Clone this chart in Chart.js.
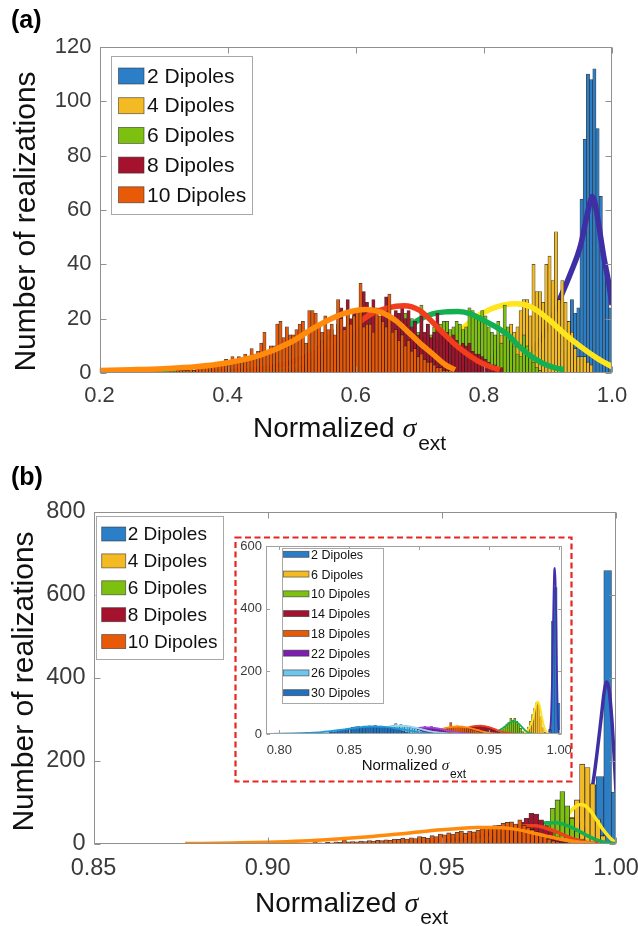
<!DOCTYPE html>
<html>
<head>
<meta charset="utf-8">
<script src="https://cdn.jsdelivr.net/npm/chart.js"></script>
<style>
  html, body { margin: 0; padding: 0; background: #fff; }
  #wrap { position: relative; width: 638px; height: 926px; overflow: hidden; }
  canvas { position: absolute; left: 0; top: 0; }
</style>
</head>
<body>
<div id="wrap">
  <canvas id="chartA" width="638" height="926"></canvas>
  <canvas id="chartB" width="638" height="926"></canvas>
  <canvas id="chartC" width="638" height="926"></canvas>
</div>
<script>
// ---------- text ----------
const yTitle = 'Number of realizations';
const xTitleMain = 'Normalized ';
const xTitleSym = 'σ';
const xTitleSub = 'ext';
const legendA = ['2 Dipoles', '4 Dipoles', '6 Dipoles', '8 Dipoles', '10 Dipoles'];
const legendC = ['2 Dipoles', '6 Dipoles', '10 Dipoles', '14 Dipoles', '18 Dipoles', '22 Dipoles', '26 Dipoles', '30 Dipoles'];

// ---------- ticks ----------
const aXTicks = [0.2, 0.4, 0.6, 0.8, 1.0];
const aXLabels = ['0.2', '0.4', '0.6', '0.8', '1.0'];
const aYTicks = [0, 20, 40, 60, 80, 100, 120];
const aYLabels = ['0', '20', '40', '60', '80', '100', '120'];
const bXTicks = [0.85, 0.90, 0.95, 1.00];
const bXLabels = ['0.85', '0.90', '0.95', '1.00'];
const bYTicks = [0, 200, 400, 600, 800];
const bYLabels = ['0', '200', '400', '600', '800'];
const cXTicks = [0.80, 0.85, 0.90, 0.95, 1.00];
const cXLabels = ['0.80', '0.85', '0.90', '0.95', '1.00'];
const cYTicks = [0, 200, 400, 600];
const cYLabels = ['0', '200', '400', '600'];

// ---------- panel (a) histograms: first bin centre, bin width, counts ----------
const aBin = 0.005;
const a2Start = 0.9225;
const a2Counts = [3, 8, 19, 27, 22, 24, 64, 86, 110, 108, 112, 90, 65, 42, 35, 24];
const a4Start = 0.8025;
const a4Counts = [2, 4, 6, 8, 10, 14, 16, 12, 18, 15, 17, 23, 27, 27, 21, 40, 30, 30, 26, 40,
  43, 34, 52, 27, 34, 26, 19, 15, 9, 6, 6, 6, 4, 3];
const a6Start = 0.6725;
const a6Counts = [3, 22, 8, 20, 12, 15, 25, 13, 18, 14, 17, 12, 18, 19, 19, 16, 17, 19, 18, 16,
  17, 24, 23, 20, 21, 23, 21, 17, 15, 14, 19, 11, 25, 17, 13, 10, 7, 6, 14, 10, 7, 4, 2, 1];
const a8Start = 0.4975;
const a8Counts = [1, 2, 1, 4, 3, 6, 5, 8, 7, 10, 12, 9, 14, 16, 13, 18, 24, 17, 27, 20,
  22, 19, 24, 30, 26, 21, 27, 24, 20, 23, 28, 23, 21, 23, 22, 25, 20, 23, 17, 19,
  14, 21, 15, 18, 13, 15, 22, 15, 14, 15, 12, 14, 12, 10, 11, 10, 11, 8, 7, 7, 6, 5, 4, 3, 3, 2, 2];
const a10Start = 0.3125;
const a10Counts = [1, 0, 1, 1, 1, 1, 2, 1, 2, 2, 2, 3, 2, 3, 4, 3, 4, 5, 4, 6,
  5, 6, 5, 7, 6, 9, 7, 8, 11, 15, 7, 10, 10, 18, 19, 13, 17, 14, 14, 16,
  18, 19, 11, 23, 23, 22, 17, 15, 21, 16, 18, 14, 27, 20, 16, 23, 18, 21, 23, 33,
  17, 18, 18, 15, 22, 21, 19, 17, 29, 15, 16, 12, 14, 10, 12, 8, 9, 6, 7, 5,
  4, 4, 3, 2, 2, 1, 1, 1, 0];

// ---------- panel (a) fitted curves ----------
const a2FitX = [0.782, 0.80, 0.82, 0.84, 0.86, 0.88, 0.90, 0.919, 0.935, 0.951, 0.96, 0.966, 0.969, 0.973, 0.979, 0.987, 0.995, 1.0];
const a2FitY = [0.1, 0.3, 0.8, 2, 4.5, 9.5, 17, 27.5, 36.5, 47, 57, 63, 65, 63, 55, 43, 33, 25];
const a4FitX = [0.28, 0.40, 0.50, 0.60, 0.65, 0.70, 0.73, 0.75, 0.77, 0.79, 0.81, 0.83, 0.85, 0.873, 0.899, 0.925, 0.951, 0.977, 1.0];
const a4FitY = [0, 0, 0.1, 0.6, 1.8, 5, 8.5, 12.5, 17, 21, 23.5, 25, 25.5, 24.4, 20.1, 14.6, 9.7, 5.4, 2.3];
const a6FitX = [0.28, 0.40, 0.50, 0.55, 0.60, 0.64, 0.66, 0.685, 0.70, 0.72, 0.74, 0.76, 0.78, 0.80, 0.82, 0.84, 0.85, 0.87, 0.89, 0.91, 0.925];
const a6FitY = [0, 0.1, 0.8, 2, 5, 10, 13.5, 17.5, 19.8, 21.8, 22.5, 22.6, 21.7, 19.3, 16.8, 13.5, 11, 6.8, 3.8, 2, 1.2];
const a8FitX = [0.37, 0.45, 0.50, 0.54, 0.58, 0.60, 0.625, 0.65, 0.675, 0.70, 0.73, 0.76, 0.79, 0.81, 0.825];
const a8FitY = [0.2, 1.5, 4, 8, 14, 17.8, 21.8, 24, 24.8, 23, 16.2, 9.5, 4.5, 2.3, 1.2];
const a10FitX = [0.2, 0.25, 0.3, 0.35, 0.4, 0.45, 0.5, 0.534, 0.56, 0.58, 0.6, 0.615, 0.64, 0.664, 0.68, 0.70, 0.72, 0.74, 0.755];
const a10FitY = [0.9, 1.2, 1.6, 2.3, 3.8, 6.5, 11.5, 16.5, 19.8, 21.8, 23, 23.4, 22.3, 19, 15.5, 11, 7, 3, 1.2];

// ---------- panel (b) histograms ----------
const b2Start = 0.9888, b2Width = 0.0022;
const b2Counts = [5, 40, 142, 162, 658, 125];
const b4Start = 0.9813, b4Width = 0.0015;
const b4Counts = [5, 10, 20, 40, 65, 106, 192, 184, 145, 60, 20];
const b6Start = 0.9776, b6Width = 0.0014;
const b6Counts = [10, 20, 52, 86, 106, 126, 92, 62, 30, 12, 5];
const b8Start = 0.9645, b8Width = 0.0014;
const b8Counts = [20, 25, 30, 35, 38, 45, 52, 62, 74, 72, 58, 44, 30, 18, 10, 5];
const b10Start = 0.9136, b10Width = 0.0012;
const b10Counts = [8, 3, 2, 4, 3, 5, 4, 10, 5, 6, 5, 7, 6, 8, 7, 9, 8, 10, 9, 12,
  11, 14, 12, 15, 13, 18, 16, 14, 20, 18, 24, 22, 27, 24, 28, 31, 26, 31, 29, 33,
  36, 38, 41, 44, 45, 50, 52, 53, 48, 58, 45, 40, 35, 30, 24, 18, 12, 8, 5, 3, 1];

// ---------- panel (b) fitted curves ----------
const b2FitX = [0.985, 0.988, 0.9905, 0.9933, 0.9945, 0.9957, 0.9966, 0.9973, 0.998, 0.9988, 0.9995, 1.0];
const b2FitY = [2, 15, 60, 142, 215, 300, 365, 390, 372, 300, 205, 125];
const b4FitX = [0.978, 0.981, 0.983, 0.985, 0.987, 0.9885, 0.990, 0.9915, 0.993, 0.9945, 0.996, 0.9975, 0.999, 1.0];
const b4FitY = [3, 12, 28, 52, 79, 91, 95, 90, 76, 57, 38, 22, 9, 3];
const b6FitX = [0.962, 0.966, 0.970, 0.974, 0.977, 0.980, 0.983, 0.986, 0.989, 0.992, 0.995, 0.998, 1.0];
const b6FitY = [3, 7, 15, 30, 44, 51, 51, 44, 33, 19, 8, 2.5, 1];
const b8FitX = [0.94, 0.95, 0.96, 0.965, 0.97, 0.974, 0.977, 0.98, 0.983, 0.986, 0.989, 0.992, 0.995];
const b8FitY = [3, 8, 17, 27, 38, 44, 44, 38, 29, 18, 9, 3, 1];
const b10FitX = [0.8763, 0.89, 0.90, 0.91, 0.92, 0.93, 0.94, 0.95, 0.96, 0.965, 0.97, 0.975, 0.98, 0.985, 0.99, 0.994];
const b10FitY = [1, 2.5, 4, 7, 12, 18, 26, 34, 39.5, 40, 37, 29, 19, 10, 3.5, 1];

// ---------- inset histograms ----------
const c2Start = 0.9935, c2Width = 0.002;
const c2Counts = [15, 360, 467, 98];
const c6Start = 0.975, c6Width = 0.0015;
const c6Counts = [5, 12, 22, 40, 62, 82, 100, 93, 55, 20, 5];
const c10Start = 0.9556, c10Width = 0.0014;
const c10Counts = [3, 6, 10, 16, 24, 32, 38, 50, 44, 50, 40, 30, 18, 8, 3];
const c14Start = 0.9285, c14Width = 0.0015;
const c14Counts = [5, 8, 12, 16, 20, 18, 24, 22, 28, 25, 27, 24, 26, 22, 21, 18, 15, 12, 8, 5, 3];
const c18Start = 0.9075, c18Width = 0.0015;
const c18Counts = [3, 5, 6, 8, 10, 12, 14, 16, 18, 20, 36, 22, 24, 26, 22, 24, 22, 20, 18, 16, 14, 12, 10, 8, 6, 4, 2];
const c22Start = 0.888, c22Width = 0.0016;
const c22Counts = [4, 6, 8, 10, 13, 15, 18, 20, 22, 20, 24, 21, 22, 24, 20, 19, 16, 14, 11, 8, 6, 4, 2];
const c26Start = 0.8635, c26Width = 0.0018;
const c26Counts = [3, 5, 8, 10, 13, 16, 19, 22, 24, 26, 28, 33, 27, 30, 26, 28, 24, 22, 19, 16, 13, 10, 7, 4, 2];
const c30Start = 0.8345, c30Width = 0.002;
const c30Counts = [3, 5, 6, 8, 10, 12, 14, 17, 19, 21, 23, 24, 22, 25, 23, 26, 24, 27, 22, 25, 22, 21, 20, 18, 16, 14, 11, 9, 6, 4, 2];

// ---------- inset fitted curves ----------
const c2FitX = [0.9925, 0.994, 0.995, 0.996, 0.9965, 0.997, 0.9975, 0.998, 0.9985, 0.999, 0.9995, 1.0];
const c2FitY = [0, 40, 200, 450, 525, 530, 470, 330, 170, 60, 15, 3];
const c6FitX = [0.972, 0.975, 0.978, 0.981, 0.983, 0.9845, 0.986, 0.9875, 0.9895, 0.9915, 0.9935];
const c6FitY = [1, 4, 15, 45, 85, 103, 92, 58, 20, 4, 1];
const c10FitX = [0.948, 0.952, 0.956, 0.96, 0.964, 0.967, 0.970, 0.973, 0.976, 0.979, 0.982];
const c10FitY = [1, 3, 9, 20, 33, 40, 37, 24, 10, 3, 1];
const c14FitX = [0.905, 0.915, 0.925, 0.932, 0.938, 0.944, 0.95, 0.956, 0.962, 0.968, 0.975];
const c14FitY = [0.5, 1.5, 6, 15, 24, 27, 22, 12, 4, 1, 0.3];
const c18FitX = [0.885, 0.895, 0.905, 0.913, 0.92, 0.928, 0.935, 0.942, 0.948, 0.955, 0.962];
const c18FitY = [0.3, 1, 5, 12, 20, 24, 20, 12, 5, 1, 0.3];
const c22FitX = [0.86, 0.875, 0.885, 0.895, 0.905, 0.912, 0.92, 0.928, 0.936, 0.945];
const c22FitY = [0.3, 2, 8, 16, 21, 19, 11, 4, 1, 0.3];
const c26FitX = [0.84, 0.855, 0.865, 0.875, 0.885, 0.892, 0.90, 0.91, 0.92, 0.93];
const c26FitY = [0.5, 3, 10, 20, 26, 25, 17, 7, 2, 0.5];
const c30FitX = [0.7905, 0.80, 0.81, 0.82, 0.83, 0.845, 0.855, 0.865, 0.875, 0.885, 0.895, 0.905, 0.915, 0.925];
const c30FitY = [0.5, 1, 2, 3.5, 6, 14, 20, 24, 23, 17, 9, 3, 1, 0.3];

// ---------- styles ----------
const FONT = '"Liberation Sans", Arial, Helvetica, sans-serif';
const SYMFONT = '"Liberation Serif", "DejaVu Serif", serif';
const TICK_COLOR = '#3a3a3a';
const barColorsA = ['#2B7FC8', '#F3BA24', '#7DC010', '#A5122E', '#E85A08'];
const fitColorsA = ['#3F2FA5', '#FFE51C', '#12B050', '#F23D1C', '#FF8A0C'];
const barColorsC = ['#2A7DC6', '#F3BA24', '#7DC010', '#A5122E', '#E65A0A', '#7E1EAE', '#6FC6EC', '#2270BC'];
const fitColorsC = ['#4030B0', '#FFE51C', '#12B050', '#F23D1C', '#FF8A0C', '#A040E0', '#9ED8F2', '#1E9AD8'];

// ---------- helpers ----------
function hist(start, width, counts) {
  return counts.map((c, i) => ({ x: +(start + i * width).toFixed(5), y: c }));
}
function curve(xs, ys) {
  return xs.map((x, i) => ({ x: x, y: ys[i] }));
}
// bar width in pixels = one bin width on the x scale
function binPx(width) {
  return ctx => {
    const s = ctx.chart.scales.x;
    return Math.abs(s.getPixelForValue(width) - s.getPixelForValue(0));
  };
}
function barSet(label, color, start, width, counts, order, edge) {
  return {
    type: 'bar', label: label, data: hist(start, width, counts),
    backgroundColor: color, borderColor: 'rgba(30,30,30,0.85)',
    borderWidth: edge, borderSkipped: 'start', grouped: false,
    inflateAmount: 0.35,
    barThickness: binPx(width), order: order
  };
}
function lineSet(label, color, xs, ys, order, lw) {
  return {
    type: 'line', label: label, data: curve(xs, ys),
    borderColor: color, borderWidth: lw, pointRadius: 0, fill: false,
    cubicInterpolationMode: 'monotone', order: order
  };
}
// MATLAB draws hist, fit, hist, fit ... later ones on top
function buildSets(labels, starts, widths, counts, fitXs, fitYs, barCols, fitCols, lw, edge) {
  const n = labels.length, out = [];
  for (let k = 0; k < n; k++) {
    const depth = 2 * (n - 1 - k);
    out.push(barSet(labels[k], barCols[k], starts[k], widths[k], counts[k], depth + 1, edge));
    out.push(lineSet(labels[k] + ' fit', fitCols[k], fitXs[k], fitYs[k], depth, lw));
  }
  return out;
}

const framePlugin = {
  id: 'frame',
  afterDatasetsDraw(chart, args, o) {
    const { ctx, chartArea: a, scales } = chart;
    const l = Math.round(a.left) + 0.5, r = Math.round(a.right) - 0.5;
    const t = Math.round(a.top) + 0.5, b = Math.round(a.bottom) - 0.5;
    ctx.save();
    ctx.strokeStyle = o.color;
    ctx.lineWidth = 1;
    ctx.strokeRect(l, t, r - l, b - t);
    ctx.beginPath();
    scales.x.ticks.forEach(tk => {
      const px = Math.round(scales.x.getPixelForValue(tk.value)) + 0.5;
      ctx.moveTo(px, b); ctx.lineTo(px, b - o.tick);
      ctx.moveTo(px, t); ctx.lineTo(px, t + o.tick);
    });
    scales.y.ticks.forEach(tk => {
      const py = Math.round(scales.y.getPixelForValue(tk.value)) + 0.5;
      ctx.moveTo(l, py); ctx.lineTo(l + o.tick, py);
      ctx.moveTo(r, py); ctx.lineTo(r - o.tick, py);
    });
    ctx.stroke();
    ctx.restore();
  }
};

function drawLegend(ctx, lg) {
  const [l, t, r, b] = lg.box;
  ctx.fillStyle = '#fff';
  ctx.fillRect(l, t, r - l, b - t);
  ctx.strokeStyle = '#a8a8a8';
  ctx.lineWidth = 1;
  ctx.strokeRect(Math.round(l) + 0.5, Math.round(t) + 0.5, Math.round(r - l), Math.round(b - t));
  ctx.font = lg.size + 'px ' + FONT;
  ctx.textAlign = 'left';
  ctx.textBaseline = 'middle';
  lg.labels.forEach((txt, i) => {
    const cy = lg.y0 + i * lg.dy;
    ctx.fillStyle = lg.colors[i];
    ctx.fillRect(lg.sx, cy - lg.sh / 2, lg.sw, lg.sh);
    ctx.strokeStyle = 'rgba(50,50,50,0.7)';
    ctx.lineWidth = 0.8;
    ctx.strokeRect(lg.sx, cy - lg.sh / 2, lg.sw, lg.sh);
    ctx.fillStyle = '#111';
    ctx.fillText(txt, lg.tx, cy + 1);
  });
}

function drawXTitle(ctx, t) {
  ctx.fillStyle = '#111';
  ctx.textAlign = 'left';
  ctx.textBaseline = 'alphabetic';
  ctx.font = t.size + 'px ' + FONT;
  ctx.fillText(xTitleMain, t.x, t.y);
  let x = t.x + ctx.measureText(xTitleMain).width;
  ctx.font = 'italic ' + t.size + 'px ' + SYMFONT;
  ctx.fillText(xTitleSym, x, t.y);
  x += ctx.measureText(xTitleSym).width + t.gap;
  ctx.font = t.sub + 'px ' + FONT;
  ctx.fillText(xTitleSub, x, t.y + t.dy);
}

const annotPlugin = {
  id: 'annot',
  beforeDraw(chart, args, o) {
    if (o.inset) {
      const ctx = chart.ctx, [l, t, r, b] = o.inset;
      ctx.save();
      ctx.fillStyle = '#fff';
      ctx.fillRect(l, t, r - l, b - t);
      ctx.restore();
    }
  },
  afterDraw(chart, args, o) {
    const ctx = chart.ctx;
    ctx.save();
    if (o.letter) {
      ctx.fillStyle = '#000';
      ctx.font = 'bold 25px ' + FONT;
      ctx.textAlign = 'left';
      ctx.textBaseline = 'alphabetic';
      ctx.fillText(o.letter.text, o.letter.x, o.letter.y);
    }
    if (o.yTitle) {
      ctx.save();
      ctx.translate(o.yTitle.x, o.yTitle.y);
      ctx.rotate(-Math.PI / 2);
      ctx.fillStyle = '#111';
      ctx.font = o.yTitle.size + 'px ' + FONT;
      ctx.textAlign = 'center';
      ctx.textBaseline = 'alphabetic';
      ctx.fillText(yTitle, 0, 0);
      ctx.restore();
    }
    if (o.xTitle) drawXTitle(ctx, o.xTitle);
    if (o.legend) drawLegend(ctx, o.legend);
    if (o.inset) {
      const [l, t, r, b] = o.inset;
      ctx.strokeStyle = '#E8261E';
      ctx.lineWidth = 2.2;
      ctx.setLineDash([6, 3.5]);
      ctx.strokeRect(l, t, r - l, b - t);
      ctx.setLineDash([]);
    }
    ctx.restore();
  }
};

function buildChart(id, p) {
  const [L, T, R, B] = p.area;
  const tickFont = { family: FONT, size: p.tickSize };
  return new Chart(document.getElementById(id), {
    type: 'bar',
    data: { datasets: p.datasets },
    options: {
      responsive: false,
      animation: false,
      devicePixelRatio: 1,
      events: [],
      layout: { padding: { left: L - p.yAxisW, top: T, right: 638 - R, bottom: 926 - B - p.xAxisH } },
      scales: {
        x: {
          type: 'linear', min: p.xMin, max: p.xMax, offset: false,
          grid: { display: false, drawTicks: false }, border: { display: false },
          afterBuildTicks: s => { s.ticks = p.xTicks.map(v => ({ value: v })); },
          afterFit: s => { s.height = p.xAxisH; s.paddingLeft = 0; s.paddingRight = 0; },
          ticks: { autoSkip: false, maxRotation: 0, padding: p.xPad, color: TICK_COLOR,
                   font: tickFont, callback: (v, i) => p.xLabels[i] }
        },
        y: {
          type: 'linear', min: p.yMin, max: p.yMax,
          grid: { display: false, drawTicks: false }, border: { display: false },
          afterBuildTicks: s => { s.ticks = p.yTicks.map(v => ({ value: v })); },
          afterFit: s => { s.width = p.yAxisW; s.paddingTop = 0; s.paddingBottom = 0; },
          ticks: { autoSkip: false, padding: p.yPad, color: TICK_COLOR,
                   font: tickFont, callback: (v, i) => p.yLabels[i] }
        }
      },
      plugins: {
        legend: { display: false },
        tooltip: { enabled: false },
        frame: p.frame,
        annot: p.annot
      }
    },
    plugins: [framePlugin, annotPlugin]
  });
}

// ---------- panel (a) ----------
buildChart('chartA', {
  area: [99.5, 47, 612, 373], yAxisW: 90, xAxisH: 40,
  xMin: 0.2, xMax: 1.0, yMin: 0, yMax: 120,
  xTicks: aXTicks, xLabels: aXLabels, yTicks: aYTicks, yLabels: aYLabels,
  tickSize: 22, xPad: 10, yPad: 8,
  datasets: buildSets(legendA,
    [a2Start, a4Start, a6Start, a8Start, a10Start],
    [aBin, aBin, aBin, aBin, aBin],
    [a2Counts, a4Counts, a6Counts, a8Counts, a10Counts],
    [a2FitX, a4FitX, a6FitX, a8FitX, a10FitX],
    [a2FitY, a4FitY, a6FitY, a8FitY, a10FitY],
    barColorsA, fitColorsA, 5.5, 0.7),
  frame: { color: '#909090', tick: 6 },
  annot: {
    letter: { text: '(a)', x: 11, y: 28 },
    yTitle: { x: 35, y: 221.5, size: 30 },
    xTitle: { x: 253, y: 436.5, size: 28, sub: 21, dy: 13, gap: 2 },
    legend: { box: [110.5, 55.5, 251, 213.5], labels: legendA, colors: barColorsA,
              size: 21, sx: 118.5, sw: 25.5, sh: 16, tx: 147, y0: 76, dy: 29.7 }
  }
});

// ---------- panel (b) ----------
buildChart('chartB', {
  area: [93.5, 511.5, 616, 844], yAxisW: 85, xAxisH: 40,
  xMin: 0.85, xMax: 1.0, yMin: 0, yMax: 800,
  xTicks: bXTicks, xLabels: bXLabels, yTicks: bYTicks, yLabels: bYLabels,
  tickSize: 23.5, xPad: 10, yPad: 8,
  datasets: buildSets(legendA,
    [b2Start, b4Start, b6Start, b8Start, b10Start],
    [b2Width, b4Width, b6Width, b8Width, b10Width],
    [b2Counts, b4Counts, b6Counts, b8Counts, b10Counts],
    [b2FitX, b4FitX, b6FitX, b8FitX, b10FitX],
    [b2FitY, b4FitY, b6FitY, b8FitY, b10FitY],
    barColorsA, fitColorsA, 3.5, 0.8),
  frame: { color: '#909090', tick: 6 },
  annot: {
    letter: { text: '(b)', x: 11, y: 485 },
    yTitle: { x: 33, y: 681.5, size: 30 },
    xTitle: { x: 255, y: 912, size: 28, sub: 21, dy: 11.5, gap: 2 },
    legend: { box: [95.5, 515.5, 222.5, 658.5], labels: legendA, colors: barColorsA,
              size: 19, sx: 101.7, sw: 24, sh: 14, tx: 127.7, y0: 534, dy: 26.9 }
  }
});

// ---------- inset ----------
buildChart('chartC', {
  area: [266, 546, 562, 734], yAxisW: 40, xAxisH: 30,
  xMin: 0.7905, xMax: 1.002, yMin: 0, yMax: 600,
  xTicks: cXTicks, xLabels: cXLabels, yTicks: cYTicks, yLabels: cYLabels,
  tickSize: 13, xPad: 9, yPad: 4,
  datasets: buildSets(legendC,
    [c2Start, c6Start, c10Start, c14Start, c18Start, c22Start, c26Start, c30Start],
    [c2Width, c6Width, c10Width, c14Width, c18Width, c22Width, c26Width, c30Width],
    [c2Counts, c6Counts, c10Counts, c14Counts, c18Counts, c22Counts, c26Counts, c30Counts],
    [c2FitX, c6FitX, c10FitX, c14FitX, c18FitX, c22FitX, c26FitX, c30FitX],
    [c2FitY, c6FitY, c10FitY, c14FitY, c18FitY, c22FitY, c26FitY, c30FitY],
    barColorsC, fitColorsC, 1.8, 0.4),
  frame: { color: '#a0a0a0', tick: 3.5 },
  annot: {
    inset: [235.5, 537.5, 571.5, 781.5],
    xTitle: { x: 361.7, y: 770, size: 15, sub: 12, dy: 8, gap: 1 },
    legend: { box: [281.7, 548.3, 382.7, 703.3], labels: legendC, colors: barColorsC,
              size: 12.5, sx: 283.5, sw: 25.5, sh: 6, tx: 311, y0: 554.3, dy: 19.77 }
  }
});
</script>
</body>
</html>
